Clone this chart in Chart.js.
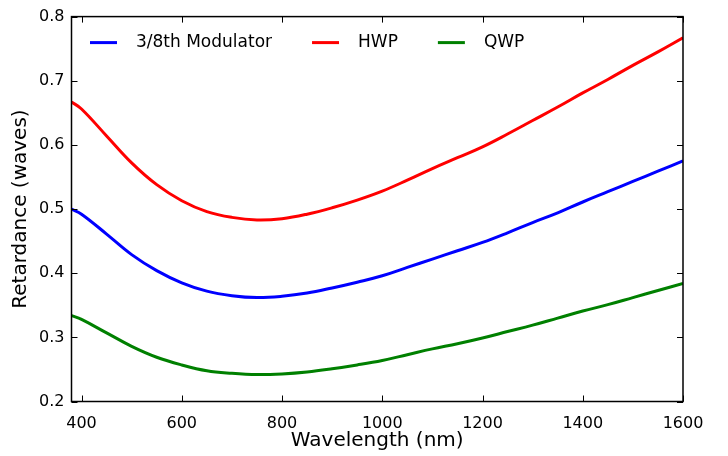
<!DOCTYPE html>
<html>
<head>
<meta charset="utf-8">
<script src="https://cdn.jsdelivr.net/npm/chart.js@4.4.1/dist/chart.umd.min.js"></script>
<style>
  body { margin: 0; background: #fff; }
  canvas { display: block; }
</style>
</head>
<body>
<canvas id="retardChart" width="728" height="456"></canvas>
<script>
// wavelengths (nm)
const wavelengths = [380, 400, 450, 500, 550, 600, 650, 700, 750, 800, 850, 900, 950, 1000, 1050, 1100, 1150, 1200, 1250, 1300, 1350, 1400, 1450, 1500, 1550, 1600];

// retardance (waves)
const modulator38 = [0.500, 0.492, 0.461, 0.429, 0.404, 0.385, 0.372, 0.365, 0.362, 0.364, 0.369, 0.377, 0.386, 0.396, 0.409, 0.422, 0.435, 0.448, 0.463, 0.479, 0.494, 0.511, 0.527, 0.543, 0.559, 0.575];
const hwp = [0.667, 0.656, 0.614, 0.572, 0.538, 0.513, 0.496, 0.487, 0.483, 0.485, 0.492, 0.502, 0.514, 0.528, 0.545, 0.563, 0.580, 0.597, 0.617, 0.638, 0.659, 0.681, 0.702, 0.724, 0.745, 0.767];
const qwp = [0.334, 0.328, 0.307, 0.286, 0.269, 0.257, 0.248, 0.244, 0.242, 0.243, 0.246, 0.251, 0.257, 0.264, 0.273, 0.282, 0.290, 0.299, 0.309, 0.319, 0.330, 0.341, 0.351, 0.362, 0.373, 0.384];

const seriesNames = ['3/8th Modulator', 'HWP', 'QWP'];
const seriesColors = ['#0000ff', '#ff0000', '#008000'];

const xTicks = [400, 600, 800, 1000, 1200, 1400, 1600];
const yTicks = [0.2, 0.3, 0.4, 0.5, 0.6, 0.7, 0.8];

Chart.defaults.font.family = "'DejaVu Sans', sans-serif";
Chart.defaults.color = '#000';

function toPoints(ys) {
    return wavelengths.map((x, i) => ({ x: x, y: ys[i] }));
}

// 框线 + 向内的刻度线（上下左右都有）
const frameTicks = {
    id: 'frameTicks',
    afterDatasetsDraw(chart) {
        const ctx = chart.ctx;
        const area = chart.chartArea;
        const xs = chart.scales.x;
        const ys = chart.scales.y;
        const len = 6;
        ctx.save();
        ctx.strokeStyle = '#000';
        ctx.lineWidth = 1;
        ctx.beginPath();
        xTicks.forEach(v => {
            const px = Math.round(xs.getPixelForValue(v)) + 0.5;
            ctx.moveTo(px, area.bottom);
            ctx.lineTo(px, area.bottom - len);
            ctx.moveTo(px, area.top);
            ctx.lineTo(px, area.top + len);
        });
        yTicks.forEach(v => {
            const py = Math.round(ys.getPixelForValue(v)) + 0.5;
            ctx.moveTo(area.left, py);
            ctx.lineTo(area.left + len, py);
            ctx.moveTo(area.right, py);
            ctx.lineTo(area.right - len, py);
        });
        ctx.stroke();
        ctx.lineWidth = 1.5;
        ctx.strokeRect(area.left, area.top, area.right - area.left, area.bottom - area.top);
        ctx.restore();
    }
};

// 图例画在绘图区内左上
const insideLegend = {
    id: 'insideLegend',
    afterDraw(chart) {
        const ctx = chart.ctx;
        const area = chart.chartArea;
        const y = area.top + 26;
        let x = area.left + 18.5;
        ctx.save();
        ctx.font = "17px 'DejaVu Sans', sans-serif";
        ctx.textBaseline = 'middle';
        ctx.textAlign = 'left';
        chart.data.datasets.forEach(ds => {
            ctx.strokeStyle = ds.borderColor;
            ctx.lineWidth = 3;
            ctx.beginPath();
            ctx.moveTo(x, y);
            ctx.lineTo(x + 27, y);
            ctx.stroke();
            x += 27 + 19;
            ctx.fillStyle = '#000';
            ctx.fillText(ds.label, x, y);
            x += ctx.measureText(ds.label).width + 40;
        });
        ctx.restore();
    }
};

const ctx = document.getElementById('retardChart').getContext('2d');
new Chart(ctx, {
    type: 'line',
    data: {
        datasets: [modulator38, hwp, qwp].map((ys, i) => ({
            label: seriesNames[i],
            data: toPoints(ys),
            borderColor: seriesColors[i],
            backgroundColor: seriesColors[i],
            borderWidth: 3,
            pointRadius: 0,
            fill: false,
            tension: 0.4
        }))
    },
    options: {
        responsive: false,
        animation: false,
        layout: { padding: { top: 13, right: 45, left: 0, bottom: 0 } },
        plugins: {
            legend: { display: false },
            tooltip: { enabled: false }
        },
        scales: {
            x: {
                type: 'linear',
                min: 380,
                max: 1600,
                grid: { display: false, drawTicks: false },
                border: { display: false },
                afterBuildTicks: scale => { scale.ticks = xTicks.map(v => ({ value: v })); },
                afterFit: scale => { scale.height = 54.5; },
                ticks: { font: { size: 16 }, padding: 13, maxRotation: 0, callback: v => String(v) },
                title: {
                    display: true,
                    text: 'Wavelength (nm)',
                    font: { size: 20 },
                    padding: { top: 0, bottom: 3 }
                }
            },
            y: {
                min: 0.2,
                max: 0.8,
                grid: { display: false, drawTicks: false },
                border: { display: false },
                afterBuildTicks: scale => { scale.ticks = yTicks.map(v => ({ value: v })); },
                afterFit: scale => { scale.width = 71.5; },
                ticks: {
                    font: { size: 16 },
                    padding: 7,
                    callback: v => v.toFixed(1)
                },
                title: {
                    display: true,
                    text: 'Retardance (waves)',
                    font: { size: 20 },
                    padding: { top: 9, bottom: 0 }
                }
            }
        }
    },
    plugins: [frameTicks, insideLegend]
});
</script>
</body>
</html>
